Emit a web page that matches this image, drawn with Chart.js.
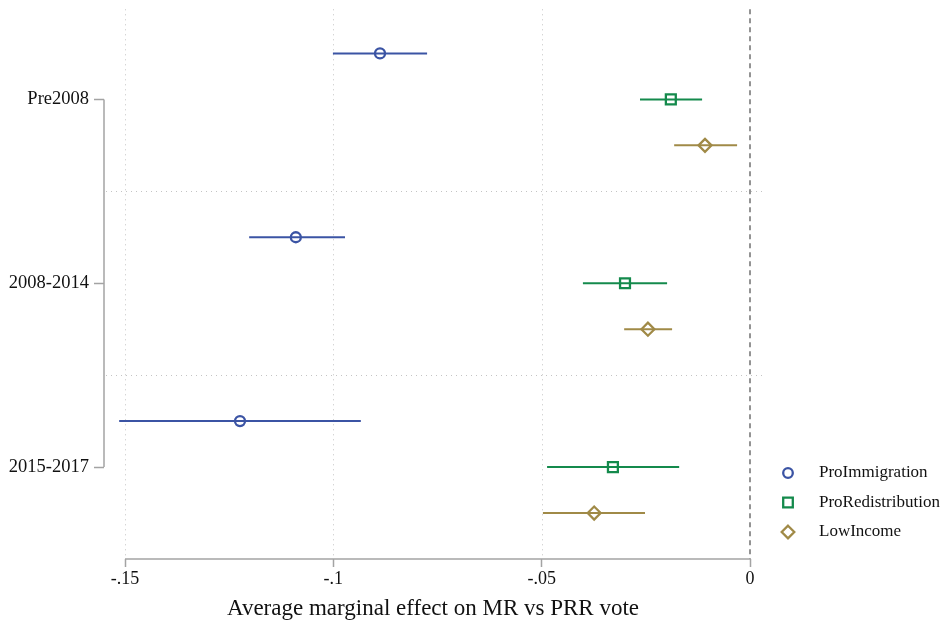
<!DOCTYPE html>
<html>
<head>
<meta charset="utf-8">
<script src="https://cdn.jsdelivr.net/npm/chart.js@4.4.0/dist/chart.umd.min.js"></script>
<style>
  html, body { margin: 0; padding: 0; background: #fff; }
  #wrap { width: 943px; height: 623px; }
</style>
</head>
<body>
<div id="wrap"><canvas id="c"></canvas></div>
<script>
// periods on the y axis, top to bottom
const groups = ["Pre2008", "2008-2014", "2015-2017"];
const seriesNames = ["ProImmigration", "ProRedistribution", "LowIncome"];

// point estimates and 95% CI, per period
const proImmEst = [-0.0888, -0.1090, -0.1224];
const proImmLo  = [-0.1001, -0.1202, -0.1514];
const proImmHi  = [-0.0775, -0.0972, -0.0934];

const proRedEst = [-0.0190, -0.0300, -0.0329];
const proRedLo  = [-0.0264, -0.0401, -0.0487];
const proRedHi  = [-0.0115, -0.0199, -0.0170];

const lowIncEst = [-0.0108, -0.0245, -0.0374];
const lowIncLo  = [-0.0182, -0.0302, -0.0497];
const lowIncHi  = [-0.0031, -0.0187, -0.0252];

const xTicks = [-0.15, -0.1, -0.05, 0];
const xTickLabels = ["-.15", "-.1", "-.05", "0"];

const colors = ["#3b54a4", "#148a4c", "#a08a47"];
const styles = ["circle", "rect", "rectRot"];
const radii = [5, 7, 6.5];

const FONT = "'Liberation Serif', 'DejaVu Serif', serif";
const AXIS_GRAY = "#a3a3a3";

// each period takes 4 rows: 3 series + a gap; period center row = 2 + 4*g
function rowOf(g, s) { return 1 + 4 * g + s; }

const ests = [proImmEst, proRedEst, lowIncEst];
const los = [proImmLo, proRedLo, lowIncLo];
const his = [proImmHi, proRedHi, lowIncHi];

const datasets = seriesNames.map((name, s) => ({
  label: name,
  data: groups.map((g, gi) => ({ x: ests[s][gi], y: rowOf(gi, s), lo: los[s][gi], hi: his[s][gi] })),
  pointStyle: styles[s],
  radius: radii[s],
  borderColor: colors[s],
  backgroundColor: "rgba(0,0,0,0)",
  borderWidth: 2.3,
  showLine: false
}));

const framePlugin = {
  id: "frame",
  beforeDatasetsDraw(chart) {
    const { ctx, chartArea: a, scales: { x, y } } = chart;
    ctx.save();
    // dotted vertical grid
    ctx.strokeStyle = "#c4c4c4";
    ctx.lineWidth = 1;
    ctx.setLineDash([1, 4]);
    [-0.15, -0.1, -0.05].forEach(v => {
      const px = Math.round(x.getPixelForValue(v)) + 0.5;
      ctx.beginPath(); ctx.moveTo(px, a.top); ctx.lineTo(px, a.bottom); ctx.stroke();
    });
    // dotted separators between periods
    [4, 8].forEach(v => {
      const py = Math.round(y.getPixelForValue(v)) + 0.5;
      ctx.beginPath(); ctx.moveTo(a.left + 2, py); ctx.lineTo(a.right, py); ctx.stroke();
    });
    // dashed zero line
    ctx.strokeStyle = "#707070";
    ctx.lineWidth = 1.5;
    ctx.setLineDash([5, 4]);
    const z = x.getPixelForValue(0);
    ctx.beginPath(); ctx.moveTo(z, a.top); ctx.lineTo(z, a.bottom); ctx.stroke();
    ctx.setLineDash([]);
    // axis lines (only between outer ticks)
    ctx.strokeStyle = AXIS_GRAY;
    ctx.lineWidth = 1.5;
    ctx.beginPath();
    ctx.moveTo(x.getPixelForValue(-0.15), a.bottom);
    ctx.lineTo(x.getPixelForValue(0), a.bottom);
    ctx.stroke();
    ctx.beginPath();
    ctx.moveTo(a.left, y.getPixelForValue(2));
    ctx.lineTo(a.left, y.getPixelForValue(10));
    ctx.stroke();
    // error bars
    chart.data.datasets.forEach(ds => {
      ctx.strokeStyle = ds.borderColor;
      ctx.lineWidth = 2;
      ds.data.forEach(p => {
        const py = y.getPixelForValue(p.y);
        ctx.beginPath();
        ctx.moveTo(x.getPixelForValue(p.lo), py);
        ctx.lineTo(x.getPixelForValue(p.hi), py);
        ctx.stroke();
      });
    });
    ctx.restore();
  },
  afterDraw(chart) {
    const { ctx } = chart;
    ctx.save();
    const lx = 788, ly0 = 473, step = 29.5;
    seriesNames.forEach((name, s) => {
      const cy = ly0 + s * step;
      ctx.strokeStyle = colors[s];
      ctx.lineWidth = 2.3;
      ctx.beginPath();
      if (s === 0) {
        ctx.arc(lx, cy, 4.8, 0, Math.PI * 2);
      } else if (s === 1) {
        ctx.rect(lx - 4.8, cy - 4.8, 9.6, 9.6);
      } else {
        ctx.moveTo(lx, cy - 6.3); ctx.lineTo(lx + 6.3, cy); ctx.lineTo(lx, cy + 6.3); ctx.lineTo(lx - 6.3, cy); ctx.closePath();
      }
      ctx.stroke();
      ctx.fillStyle = "#111";
      ctx.font = "17px " + FONT;
      ctx.textBaseline = "middle";
      ctx.textAlign = "left";
      ctx.fillText(name, 819, cy);
    });
    ctx.restore();
  }
};

new Chart(document.getElementById("c"), {
  type: "scatter",
  data: { datasets },
  options: {
    responsive: true,
    maintainAspectRatio: false,
    animation: false,
    layout: { padding: { top: 5, right: 181, left: 0, bottom: 0 } },
    plugins: { legend: { display: false }, tooltip: { enabled: false } },
    scales: {
      x: {
        type: "linear",
        min: -0.15504,
        max: 0.00288,
        afterBuildTicks: sc => { sc.ticks = xTicks.map(v => ({ value: v })); },
        afterFit: sc => { sc.height = 64; sc.paddingLeft = 0; sc.paddingRight = 0; },
        grid: { drawOnChartArea: false, drawTicks: true, tickLength: 8, tickColor: AXIS_GRAY, tickWidth: 1.5 },
        border: { display: false },
        ticks: {
          color: "#111",
          font: { family: FONT, size: 18 },
          padding: 1,
          maxRotation: 0,
          callback: (v) => xTickLabels[xTicks.indexOf(v)] ?? ""
        },
        title: {
          display: true,
          text: "Average marginal effect on MR vs PRR vote",
          color: "#111",
          font: { family: FONT, size: 23 },
          padding: { top: 0, bottom: 0 }
        }
      },
      y: {
        type: "linear",
        min: 0.04,
        max: 12,
        reverse: true,
        afterBuildTicks: sc => { sc.ticks = groups.map((g, gi) => ({ value: 2 + 4 * gi })); },
        afterFit: sc => { sc.width = 104; sc.paddingTop = 0; sc.paddingBottom = 0; },
        grid: { drawOnChartArea: false, drawTicks: true, tickLength: 10, tickColor: AXIS_GRAY, tickWidth: 1.5 },
        border: { display: false },
        ticks: {
          color: "#111",
          font: { family: FONT, size: 18.5 },
          padding: 5,
          callback: (v) => groups[(v - 2) / 4] ?? ""
        }
      }
    }
  },
  plugins: [framePlugin]
});
</script>
</body>
</html>
